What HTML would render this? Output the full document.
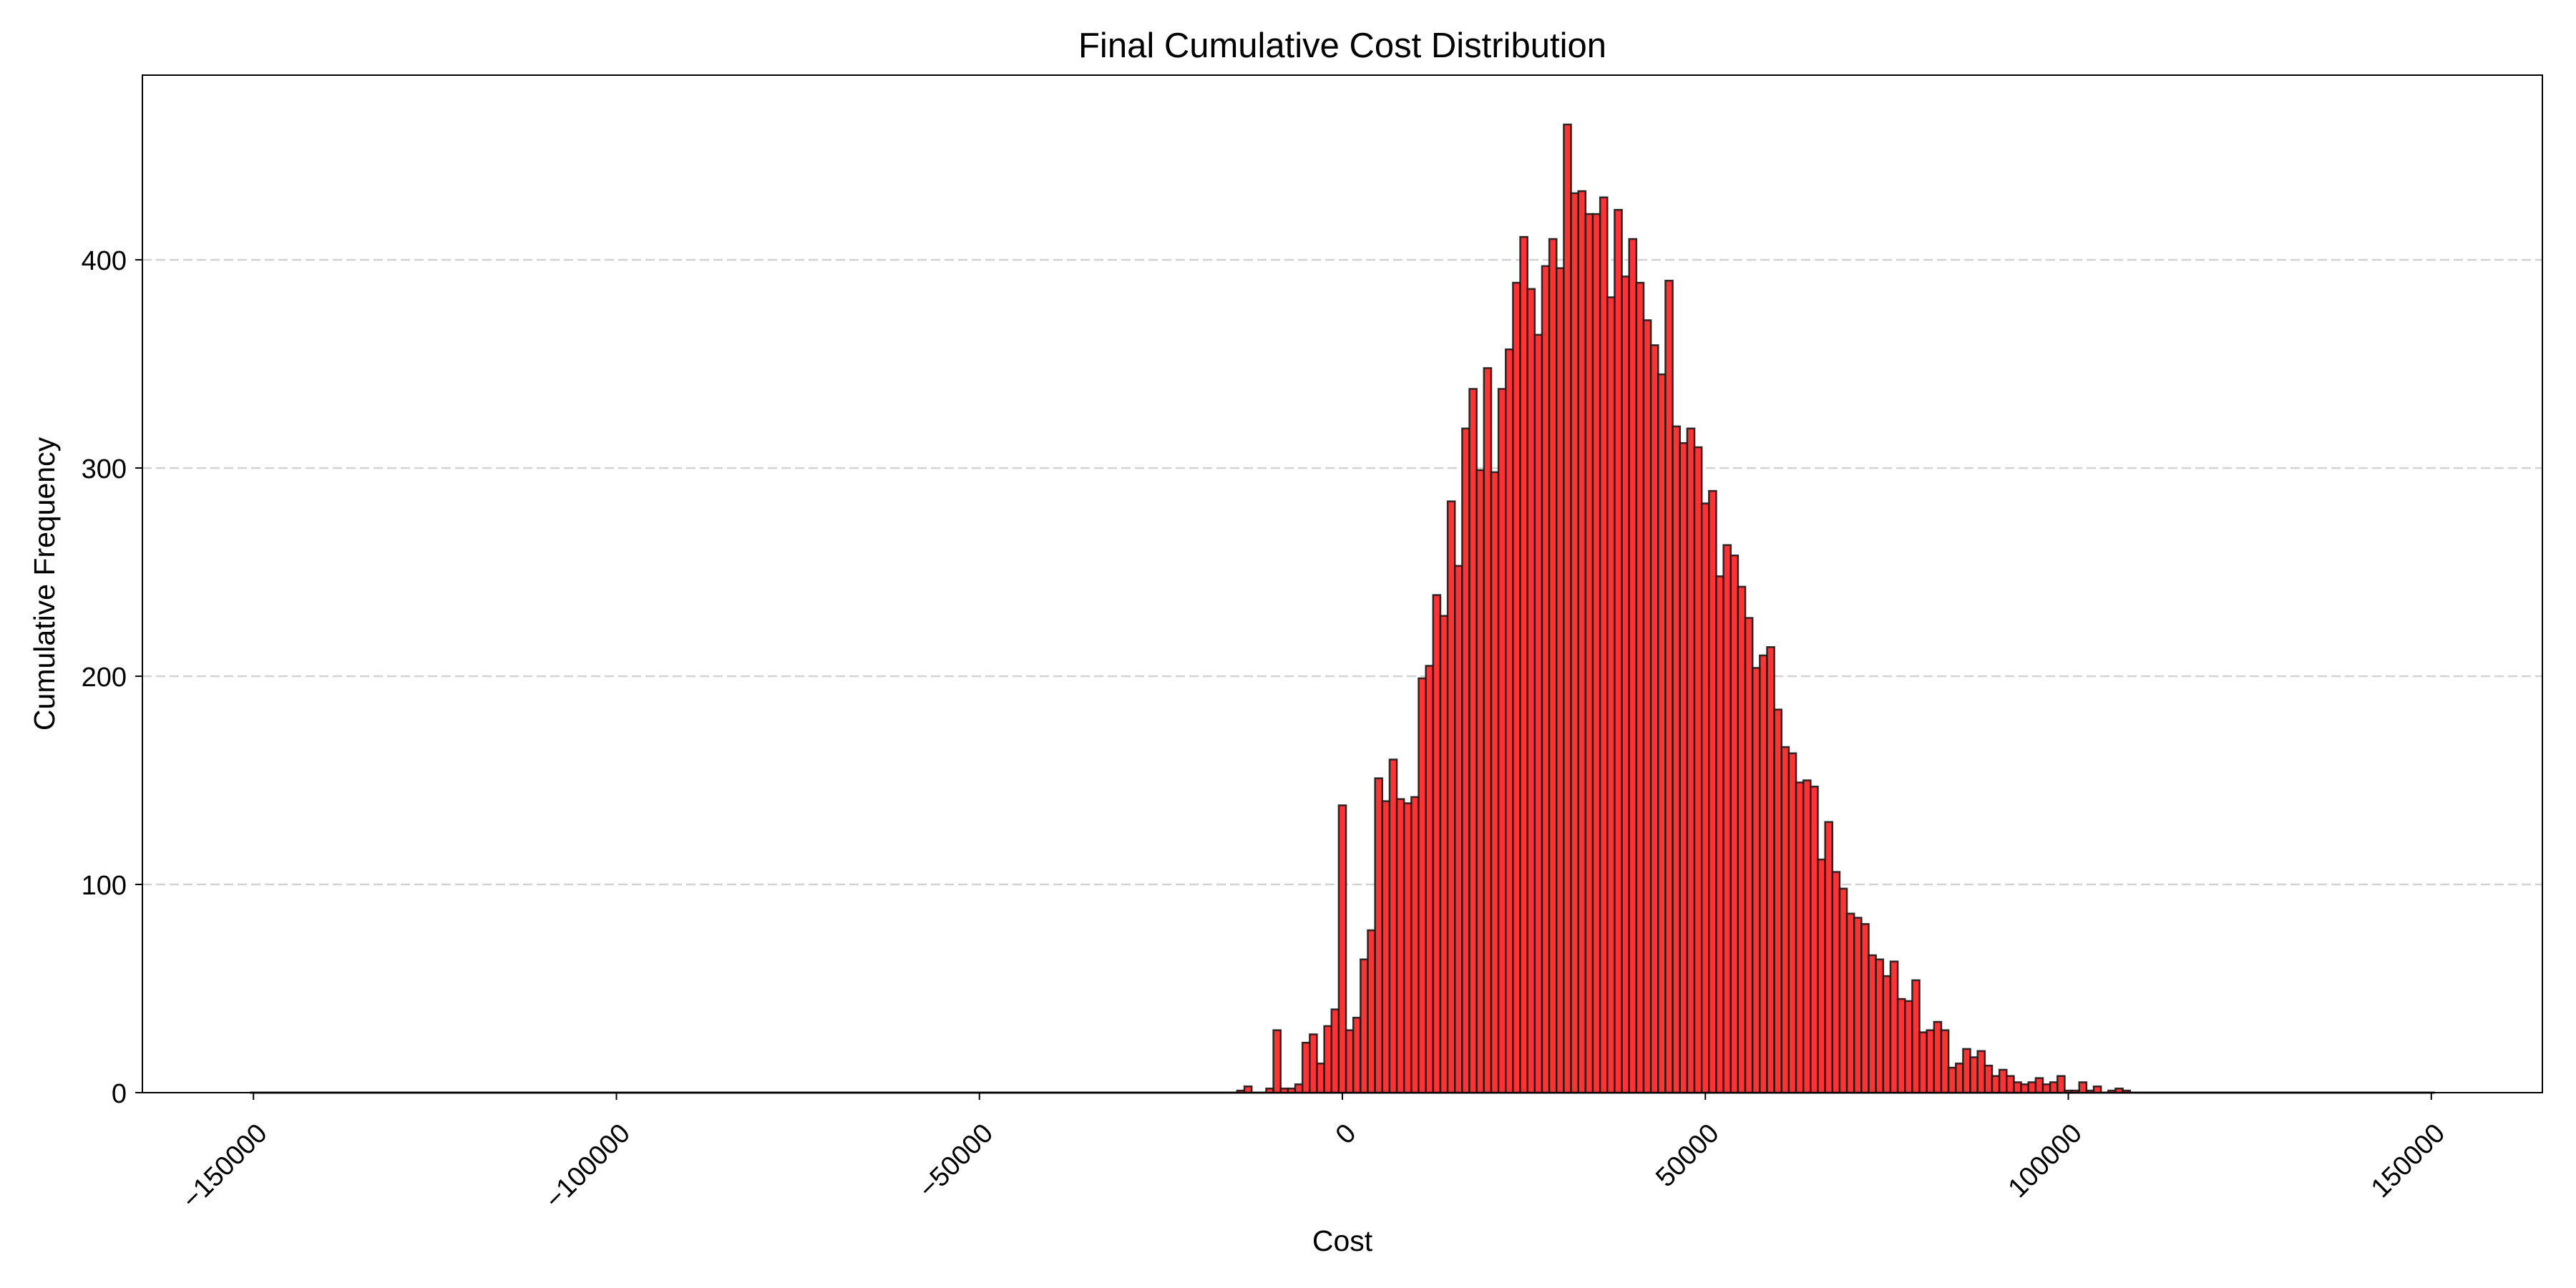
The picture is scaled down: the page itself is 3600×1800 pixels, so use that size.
<!DOCTYPE html>
<html><head><meta charset="utf-8">
<style>
html,body{margin:0;padding:0;background:#fff;}
svg{display:block;font-family:"Liberation Sans",Arial,sans-serif;}
</style></head>
<body>
<svg id="chart" width="3600" height="1800" viewBox="0 0 3600 1800" xmlns="http://www.w3.org/2000/svg">
<rect x="0" y="0" width="3600" height="1800" fill="#fff"/>
<g id="grid"></g>
<g id="bars"></g>
<g id="axes"></g>
<text x="1876" y="80" text-anchor="middle" font-size="49" fill="#000">Final Cumulative Cost Distribution</text>
<text x="1876" y="1748" text-anchor="middle" font-size="41" fill="#000">Cost</text>
<text transform="translate(76,816) rotate(-90)" text-anchor="middle" font-size="41" fill="#000">Cumulative Frequency</text>
</svg>
<script>
// Data: histogram bin centers (cost) and counts
const binStart = -14000;
const binWidth = 1000;
const counts = [1,3,0,0,2,30,2,2,4,24,28,14,32,40,138,30,36,64,78,151,140,160,141,139,142,199,205,239,229,284,253,319,338,299,348,298,338,357,389,411,386,364,397,410,396,465,432,433,422,422,430,382,424,392,410,389,371,359,345,390,320,312,319,310,283,289,248,263,258,243,228,204,210,214,184,166,163,149,150,147,112,130,106,98,86,84,81,66,64,56,63,45,44,54,29,30,34,30,12,14,21,17,20,13,8,11,8,5,4,5,7,4,5,8,1,1,5,1,3,0,1,2,1];
const xTicks = [-150000,-100000,-50000,0,50000,100000,150000];
const xTickLabels = ["\u2212150000","\u2212100000","\u221250000","0","50000","100000","150000"];
const yTicks = [0,100,200,300,400];
const yTickLabels = ["0","100","200","300","400"];
const xDomain = [-165300,165300];
const yDomain = [0,488.7];

const L=199,R=3553,T=105,B=1527;
const NS="http://www.w3.org/2000/svg";
function sx(v){return L+(v-xDomain[0])/(xDomain[1]-xDomain[0])*(R-L);}
function sy(v){return B-(v-yDomain[0])/(yDomain[1]-yDomain[0])*(B-T);}
function mk(tag,attrs,parent){const e=document.createElementNS(NS,tag);for(const k in attrs)e.setAttribute(k,attrs[k]);parent.appendChild(e);return e;}

const grid=document.getElementById('grid');
yTicks.forEach((t,i)=>{
  if(t===0)return;
  const ln=mk('line',{x1:L,x2:R,y1:sy(t),y2:sy(t),stroke:'#d3d3d3','stroke-width':2.5,'stroke-dasharray':'13,6'},grid);
  
  
});

const bars=document.getElementById('bars');
const base=mk('line',{x1:sx(-150500),x2:sx(150500),y1:B,y2:B,stroke:'#222','stroke-width':3},bars);


counts.forEach((c,i)=>{
  if(c<=0)return;
  const center=binStart+i*binWidth;
  const x0=sx(center-binWidth/2), x1=sx(center+binWidth/2);
  const r=mk('rect',{x:x0,y:sy(c),width:x1-x0,height:B-sy(c),fill:'#ff3333',stroke:'#1a1a1a','stroke-opacity':0.9,'stroke-width':2.5},bars);
  
  
});

const axes=document.getElementById('axes');
const frame=mk('rect',{x:L,y:T,width:R-L,height:B-T,fill:'none',stroke:'#000','stroke-width':2},axes);


xTicks.forEach((t,i)=>{
  const x=sx(t);
  const tk=mk('line',{x1:x,x2:x,y1:B,y2:B+10,stroke:'#000','stroke-width':2},axes);
  
  
  const tx=mk('text',{transform:`translate(${x+14},${B+52}) rotate(-45)`,'text-anchor':'end','dominant-baseline':'middle','font-size':38,fill:'#000'},axes);
  tx.textContent=xTickLabels[i];
  
  
});
yTicks.forEach((t,i)=>{
  const y=sy(t);
  const tk=mk('line',{x1:L-10,x2:L,y1:y,y2:y,stroke:'#000','stroke-width':2},axes);
  
  
  const tx=mk('text',{x:L-22,y:y+14,'text-anchor':'end','font-size':38,fill:'#000'},axes);
  tx.textContent=yTickLabels[i];
  
  
});
</script>
</body></html>
